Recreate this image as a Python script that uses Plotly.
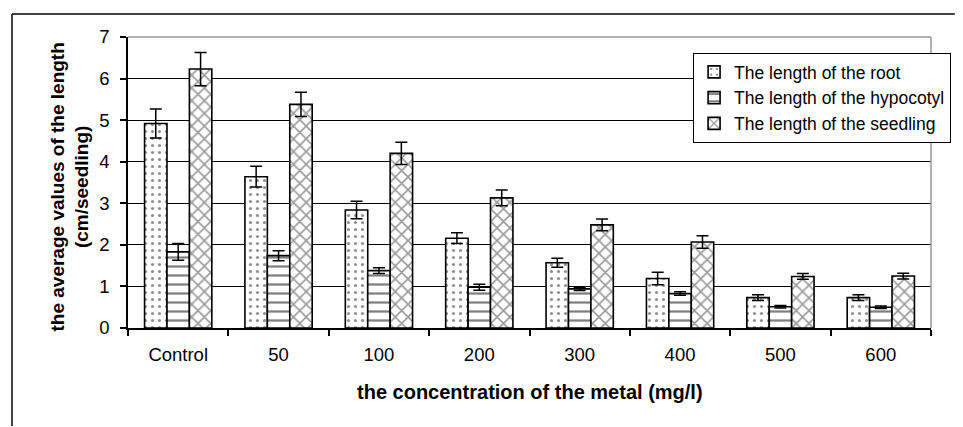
import plotly.graph_objects as go

categories = ["Control", "50", "100", "200", "300", "400", "500", "600"]
root = [4.92, 3.64, 2.84, 2.16, 1.57, 1.19, 0.73, 0.73]
root_err = [0.35, 0.25, 0.21, 0.13, 0.11, 0.15, 0.07, 0.07]
hypocotyl = [1.83, 1.74, 1.38, 0.98, 0.94, 0.83, 0.51, 0.50]
hypocotyl_err = [0.20, 0.12, 0.07, 0.07, 0.04, 0.04, 0.03, 0.03]
seedling = [6.23, 5.38, 4.20, 3.13, 2.48, 2.07, 1.24, 1.25]
seedling_err = [0.40, 0.29, 0.27, 0.19, 0.14, 0.15, 0.07, 0.07]

names = ["The length of the root", "The length of the hypocotyl", "The length of the seedling"]
FONT = "Arial, Liberation Sans, sans-serif"

W, H = 963, 427
L, R, T, B = 128, 938, 37, 328

def px2paper_x(px):
    return (px - L) / (R - L)

def px2paper_y(py):
    return (B - py) / (B - T)

fig = go.Figure()
series = [
    (root, root_err, dict(shape=".", bgcolor="white", fgcolor="#222222", size=7, solidity=0.16)),
    (hypocotyl, hypocotyl_err, dict(shape="-", bgcolor="white", fgcolor="black", size=9, solidity=0.25)),
    (seedling, seedling_err, dict(shape="x", bgcolor="white", fgcolor="#333333", size=9, solidity=0.32)),
]
for (vals, errs, pat), name in zip(series, names):
    fig.add_trace(go.Bar(
        x=categories, y=vals, name=name,
        marker=dict(color="white", line=dict(color="black", width=1.6), pattern=pat),
        error_y=dict(type="data", array=errs, visible=True, color="black", thickness=1.5, width=6),
    ))

fig.update_layout(
    width=W, height=H,
    margin=dict(l=L, r=W - R, t=T, b=H - B),
    paper_bgcolor="white", plot_bgcolor="white",
    barmode="group", bargap=0.33, bargroupgap=0,
    font=dict(family=FONT, size=17.5, color="black"),
    showlegend=True,
    legend=dict(
        x=px2paper_x(698), y=px2paper_y(53), xanchor="left", yanchor="top",
        bgcolor="white", bordercolor="black", borderwidth=1,
        font=dict(family=FONT, size=17.5, color="black"),
    ),
    xaxis=dict(
        showline=True, linecolor="black", linewidth=1.5,
        ticks="outside", ticklen=6, tickcolor="black", tickwidth=1.5,
        tickson="boundaries", showgrid=False, ticklabelstandoff=9,
        tickfont=dict(family=FONT, size=18.5, color="black"),
    ),
    yaxis=dict(
        range=[0, 7], dtick=1, tick0=0,
        showline=True, linecolor="black", linewidth=1.5,
        ticks="outside", ticklen=6, tickcolor="black", tickwidth=1.5,
        showgrid=True, gridcolor="black", gridwidth=1.2, zeroline=False,
        ticklabelstandoff=7,
        tickfont=dict(family=FONT, size=18.5, color="black"),
    ),
    shapes=[
        dict(type="line", xref="paper", yref="paper", x0=0, x1=1, y0=1, y1=1,
             line=dict(color="#999999", width=1.5), layer="above"),
        dict(type="line", xref="paper", yref="paper", x0=1, x1=1, y0=0, y1=1,
             line=dict(color="#999999", width=1.5), layer="above"),
        # outer chart frame (only top and left edges fall inside the picture)
        dict(type="line", xref="paper", yref="paper",
             x0=px2paper_x(11), x1=px2paper_x(962), y0=px2paper_y(14), y1=px2paper_y(14),
             line=dict(color="black", width=1.5), layer="above"),
        dict(type="line", xref="paper", yref="paper",
             x0=px2paper_x(11), x1=px2paper_x(11), y0=px2paper_y(14), y1=px2paper_y(426),
             line=dict(color="black", width=1.5), layer="above"),
    ],
    annotations=[
        dict(text="<b>the average values of the length<br>(cm/seedling)</b>",
             xref="paper", yref="paper", x=px2paper_x(69), y=px2paper_y(187),
             xanchor="center", yanchor="middle", textangle=-90, showarrow=False,
             font=dict(family=FONT, size=19, color="black")),
        dict(text="<b>the concentration of the metal (mg/l)</b>",
             xref="paper", yref="paper", x=0.5, y=px2paper_y(392),
             xanchor="center", yanchor="middle", showarrow=False,
             font=dict(family=FONT, size=20, color="black")),
    ],
)

fig.write_html("out.html")
